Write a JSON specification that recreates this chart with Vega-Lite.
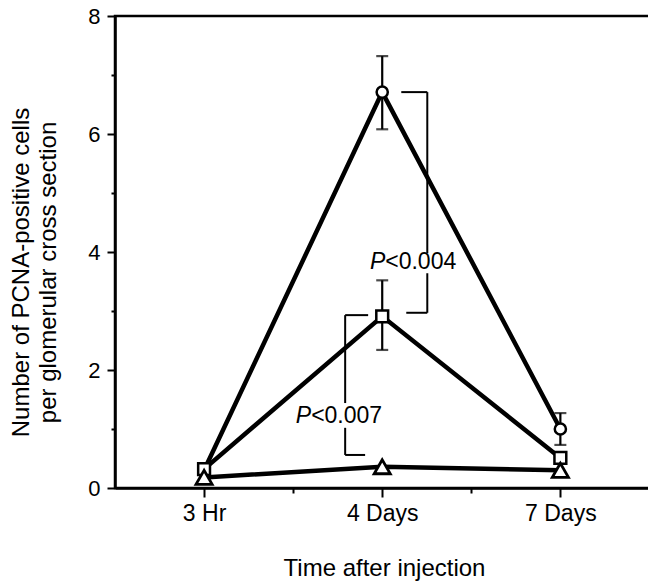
{
  "$schema": "https://vega.github.io/schema/vega-lite/v6.json",
  "width": 538,
  "height": 472,
  "autosize": {"type": "none"},
  "padding": {"left": 115, "top": 16, "right": 0, "bottom": 95},
  "background": "white",
  "config": {
    "view": {"stroke": "black", "strokeWidth": 2.5},
    "font": "Liberation Sans",
    "axis": {
      "domainColor": "black", "domainWidth": 2.5, "tickColor": "black", "tickWidth": 2,
      "labelColor": "black", "labelFont": "Liberation Sans", "labelFontSize": 22,
      "titleColor": "black", "titleFont": "Liberation Sans", "titleFontWeight": "normal",
      "grid": false
    }
  },
  "datasets": {
    "points": [
      {"time": "3 Hr", "t": 1, "group": "A", "mean": 0.3, "lo": null, "hi": null},
      {"time": "4 Days", "t": 2, "group": "A", "mean": 6.71, "lo": 6.08, "hi": 7.32},
      {"time": "7 Days", "t": 3, "group": "A", "mean": 1.0, "lo": 0.73, "hi": 1.27},
      {"time": "3 Hr", "t": 1, "group": "B", "mean": 0.32, "lo": null, "hi": null},
      {"time": "4 Days", "t": 2, "group": "B", "mean": 2.91, "lo": 2.34, "hi": 3.52},
      {"time": "7 Days", "t": 3, "group": "B", "mean": 0.51, "lo": null, "hi": null},
      {"time": "3 Hr", "t": 1, "group": "C", "mean": 0.18, "lo": null, "hi": null},
      {"time": "4 Days", "t": 2, "group": "C", "mean": 0.36, "lo": null, "hi": null},
      {"time": "7 Days", "t": 3, "group": "C", "mean": 0.3, "lo": null, "hi": null}
    ],
    "brackets": [
      {"x": 2.107, "x2": 2.253, "y": 6.71, "y2": 6.71},
      {"x": 2.253, "x2": 2.253, "y": 6.71, "y2": 3.98},
      {"x": 2.253, "x2": 2.253, "y": 3.64, "y2": 2.97},
      {"x": 2.135, "x2": 2.253, "y": 2.97, "y2": 2.97},
      {"x": 1.792, "x2": 1.921, "y": 2.93, "y2": 2.93},
      {"x": 1.792, "x2": 1.792, "y": 2.93, "y2": 1.44},
      {"x": 1.792, "x2": 1.792, "y": 1.02, "y2": 0.56},
      {"x": 1.792, "x2": 1.904, "y": 0.56, "y2": 0.56}
    ],
    "labels": [
      {"x": 2.017, "y": 3.83, "p": "P", "rest": "<0.004"},
      {"x": 1.601, "y": 1.22, "p": "P", "rest": "<0.007"}
    ]
  },
  "resolve": {"axis": {"x": "independent", "y": "independent"}},
  "layer": [
    {
      "data": {"name": "points"},
      "mark": {"type": "line", "color": "black", "strokeWidth": 4.5},
      "encoding": {
        "x": {"field": "t", "type": "quantitative",
              "scale": {"domain": [0.5, 3.52], "nice": false, "zero": false},
              "axis": {"orient": "bottom", "values": [1, 2, 3], "tickSize": 9,
                       "labelPadding": 5, "labelFontSize": 23,
                       "labelExpr": "datum.value == 1 ? '3 Hr' : datum.value == 2 ? '4 Days' : '7 Days'",
                       "title": "Time after injection", "titleFontSize": 24, "titlePadding": 31}},
        "y": {"field": "mean", "type": "quantitative",
              "scale": {"domain": [0, 8], "nice": false},
              "axis": {"orient": "left", "values": [0, 2, 4, 6, 8], "tickSize": 8, "labelPadding": 7,
                       "title": ["Number of PCNA-positive cells", "per glomerular cross section"],
                       "titleFontSize": 24, "titleLineHeight": 27, "titlePadding": 27, "titleY": 256}},
        "detail": {"field": "group"}
      }
    },
    {
      "data": {"name": "points"},
      "transform": [{"filter": "datum.lo != null"}],
      "mark": {"type": "rule", "color": "black", "strokeWidth": 2.2},
      "encoding": {
        "x": {"field": "t", "type": "quantitative", "axis": null},
        "y": {"field": "lo", "type": "quantitative", "axis": null},
        "y2": {"field": "hi"}
      }
    },
    {
      "data": {"name": "points"},
      "transform": [{"filter": "datum.lo != null"}],
      "mark": {"type": "tick", "orient": "horizontal", "color": "black", "thickness": 2.2, "size": 12},
      "encoding": {
        "x": {"field": "t", "type": "quantitative", "axis": null},
        "y": {"field": "lo", "type": "quantitative", "axis": null}
      }
    },
    {
      "data": {"name": "points"},
      "transform": [{"filter": "datum.hi != null"}],
      "mark": {"type": "tick", "orient": "horizontal", "color": "black", "thickness": 2.2, "size": 12},
      "encoding": {
        "x": {"field": "t", "type": "quantitative", "axis": null},
        "y": {"field": "hi", "type": "quantitative", "axis": null}
      }
    },
    {
      "data": {"name": "brackets"},
      "mark": {"type": "rule", "color": "black", "strokeWidth": 2},
      "encoding": {
        "x": {"field": "x", "type": "quantitative", "axis": null},
        "x2": {"field": "x2"},
        "y": {"field": "y", "type": "quantitative", "axis": null},
        "y2": {"field": "y2"}
      }
    },
    {
      "data": {"name": "labels"},
      "mark": {"type": "text", "align": "right", "baseline": "middle", "fontSize": 23, "fontStyle": "italic", "color": "black"},
      "encoding": {
        "x": {"field": "x", "type": "quantitative", "axis": null},
        "y": {"field": "y", "type": "quantitative", "axis": null},
        "text": {"field": "p"}
      }
    },
    {
      "data": {"name": "labels"},
      "mark": {"type": "text", "align": "left", "baseline": "middle", "fontSize": 23, "color": "black"},
      "encoding": {
        "x": {"field": "x", "type": "quantitative", "axis": null},
        "y": {"field": "y", "type": "quantitative", "axis": null},
        "text": {"field": "rest"}
      }
    },
    {
      "data": {"name": "points"},
      "transform": [{"filter": "datum.group == 'A'"}],
      "mark": {"type": "point", "shape": "circle", "size": 125, "filled": false, "fill": "white", "fillOpacity": 1, "stroke": "black", "strokeWidth": 2.5, "opacity": 1},
      "encoding": {
        "x": {"field": "t", "type": "quantitative",
              "axis": {"orient": "bottom", "values": [1.5, 2.5], "tickSize": 5, "labels": false, "domain": false, "title": null}},
        "y": {"field": "mean", "type": "quantitative",
              "axis": {"orient": "left", "values": [1, 3, 5, 7], "tickSize": 4, "labels": false, "domain": false, "title": null}}
      }
    },
    {
      "data": {"name": "points"},
      "transform": [{"filter": "datum.group == 'B'"}],
      "mark": {"type": "point", "shape": "square", "size": 140, "filled": false, "fill": "white", "fillOpacity": 1, "stroke": "black", "strokeWidth": 2.5, "opacity": 1},
      "encoding": {
        "x": {"field": "t", "type": "quantitative", "axis": null},
        "y": {"field": "mean", "type": "quantitative", "axis": null}
      }
    },
    {
      "data": {"name": "points"},
      "transform": [{"filter": "datum.group == 'C'"}],
      "mark": {"type": "point", "shape": "triangle-up", "size": 260, "filled": false, "fill": "white", "fillOpacity": 1, "stroke": "black", "strokeWidth": 2.8, "opacity": 1},
      "encoding": {
        "x": {"field": "t", "type": "quantitative", "axis": null},
        "y": {"field": "mean", "type": "quantitative", "axis": null}
      }
    }
  ]
}
